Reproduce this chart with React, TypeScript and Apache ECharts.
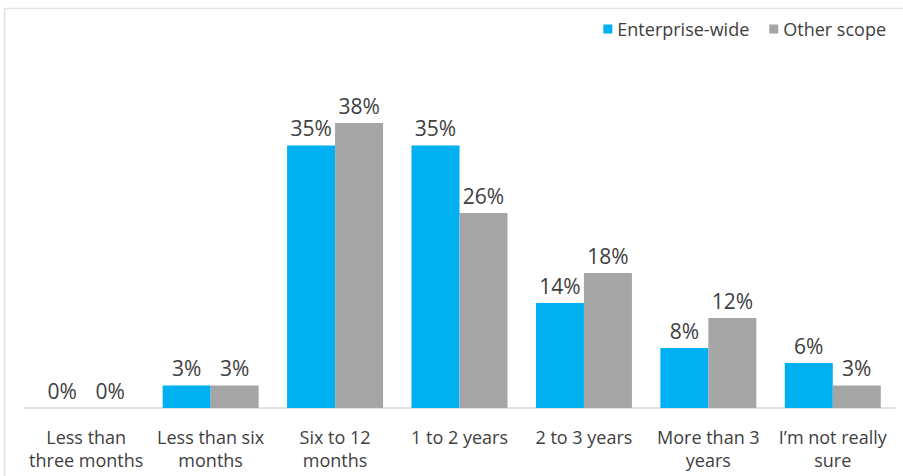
import React, { useEffect, useRef } from "react";
import * as echarts from "echarts";

const categories = [
  "Less than\nthree months",
  "Less than six\nmonths",
  "Six to 12\nmonths",
  "1 to 2 years",
  "2 to 3 years",
  "More than 3\nyears",
  "I\u2019m not really\nsure",
];
const enterpriseWide = [0, 3, 35, 35, 14, 8, 6];
const otherScope = [0, 3, 38, 26, 18, 12, 3];
const seriesNames = ["Enterprise-wide", "Other scope"];

const FONT = "'Open Sans', 'Liberation Sans', sans-serif";

export default function App() {
  const ref = useRef<HTMLDivElement>(null);
  useEffect(() => {
    document.body.style.margin = "0";
    const chart = echarts.init(ref.current!, undefined, { renderer: "svg" });
    const label = {
      show: true,
      position: "top" as const,
      distance: 7,
      formatter: (p: any) => `${p.value}%`,
      color: "#404040",
      fontSize: 21,
      fontFamily: FONT,
    };
    chart.setOption({
      animation: false,
      backgroundColor: "#ffffff",
      graphic: [
        {
          type: "rect",
          shape: { x: 4.5, y: 8.5, width: 910, height: 480 },
          style: { fill: "none", stroke: "#E3E3E3", lineWidth: 1.5 },
          silent: true,
          z: -1,
        },
      ],
      legend: {
        data: seriesNames,
        top: 15,
        right: 12,
        itemWidth: 9,
        itemHeight: 9,
        itemGap: 20,
        icon: "rect",
        textStyle: { color: "#404040", fontSize: 18, fontFamily: FONT },
      },
      grid: { left: 24, right: 8, top: 108, bottom: 68 },
      xAxis: {
        type: "category",
        data: categories,
        axisLine: { lineStyle: { color: "#D9D9D9", width: 1.5 } },
        axisTick: { show: false },
        axisLabel: {
          color: "#404040",
          fontSize: 18,
          fontFamily: FONT,
          lineHeight: 23,
          margin: 17,
          interval: 0,
        },
      },
      yAxis: {
        type: "value",
        min: 0,
        max: 40,
        show: false,
        splitLine: { show: false },
      },
      series: [
        {
          name: seriesNames[0],
          type: "bar",
          data: enterpriseWide,
          itemStyle: { color: "#00B0F0" },
          barWidth: 48,
          barGap: "0%",
          label,
        },
        {
          name: seriesNames[1],
          type: "bar",
          data: otherScope,
          itemStyle: { color: "#A5A5A5" },
          barWidth: 48,
          barGap: "0%",
          label,
        },
      ],
    });
    return () => chart.dispose();
  }, []);
  return (
    <div
      ref={ref}
      style={{ position: "absolute", left: 0, top: 0, width: 903, height: 476 }}
    />
  );
}
